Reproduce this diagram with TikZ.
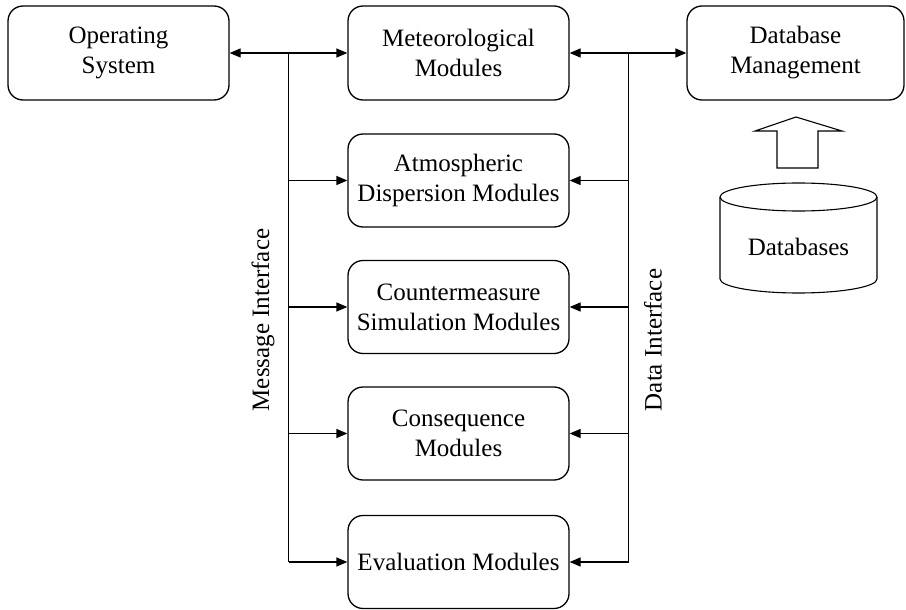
\documentclass[tikz,border=0pt]{standalone}
\usepackage{fontspec}
\setmainfont{Liberation Serif}
\usetikzlibrary{arrows.meta,shapes.geometric}
\begin{document}
\begin{tikzpicture}[x=1pt,y=-1pt,
  font=\fontsize{25}{30}\selectfont,
  line width=1.3pt,
  modbox/.style={draw, rounded corners=15pt, align=center,
    minimum width=221pt, minimum height=94pt, inner sep=0pt},
  link/.style={-{Triangle[length=11pt,width=9pt]}},
  dlink/.style={{Triangle[length=11pt,width=9pt]}-{Triangle[length=11pt,width=9pt]}}]
  \useasboundingbox (0,0) rectangle (906,610);

  % top row
  \node[modbox] (os)  at (118.5,53) {Operating\\System};
  \node[modbox] (met) at (458.5,53) {Meteorological\\Modules};
  \node[modbox, minimum width=217pt] (dbm) at (795.5,53) {Database\\Management};

  % module column
  \node[modbox, minimum height=93pt] (atm) at (458.5,180.5) {Atmospheric\\Dispersion Modules};
  \node[modbox, minimum height=93pt] (cms) at (458.5,307) {Countermeasure\\Simulation Modules};
  \node[modbox, minimum height=93pt] (con) at (458.5,433.5) {Consequence\\Modules};
  \node[modbox, minimum height=93pt] (eva) at (458.5,562) {Evaluation Modules};

  % message interface bus
  \coordinate (mtop) at (288.5,53);
  \coordinate (mbot) at (288.5,562);
  \draw[dlink] (os.east) -- (met.west);
  \draw (mtop) -- (mbot);
  \draw[link] (atm.west -| mtop) -- (atm.west);
  \draw[link] (cms.west -| mtop) -- (cms.west);
  \draw[link] (con.west -| mtop) -- (con.west);
  \draw[link] (mbot) -- (eva.west);
  \node[rotate=90] (mlabel) at (263,320) {Message Interface};

  % data interface bus
  \coordinate (dtop) at (628.5,53);
  \coordinate (dbot) at (628.5,562);
  \draw[dlink] (met.east) -- (dbm.west);
  \draw (dtop) -- (dbot);
  \draw[link] (atm.east -| dtop) -- (atm.east);
  \draw[link] (cms.east -| dtop) -- (cms.east);
  \draw[link] (con.east -| dtop) -- (con.east);
  \draw[link] (dbot) -- (eva.east);
  \node[rotate=90] (dlabel) at (653,340) {Data Interface};

  % hollow block arrow from the databases up to the management box
  \draw[line width=1.1pt, line join=miter]
    (777,168) -- (777,131) -- (755,131) -- (796,117) -- (842,131)
    -- (818,131) -- (818,168) -- cycle;

  % databases cylinder (radii in absolute units, angles in page orientation)
  \draw[line width=1.1pt] (720,197) -- (720,279)
    arc[start angle=180, end angle=360, x radius=78.5pt, y radius=14pt]
    -- (877,197);
  \draw[line width=1.1pt] (798.5,197) ellipse[x radius=78.5pt, y radius=14pt];
  \node (db) at (798.5,247) {Databases};
\end{tikzpicture}
\end{document}
